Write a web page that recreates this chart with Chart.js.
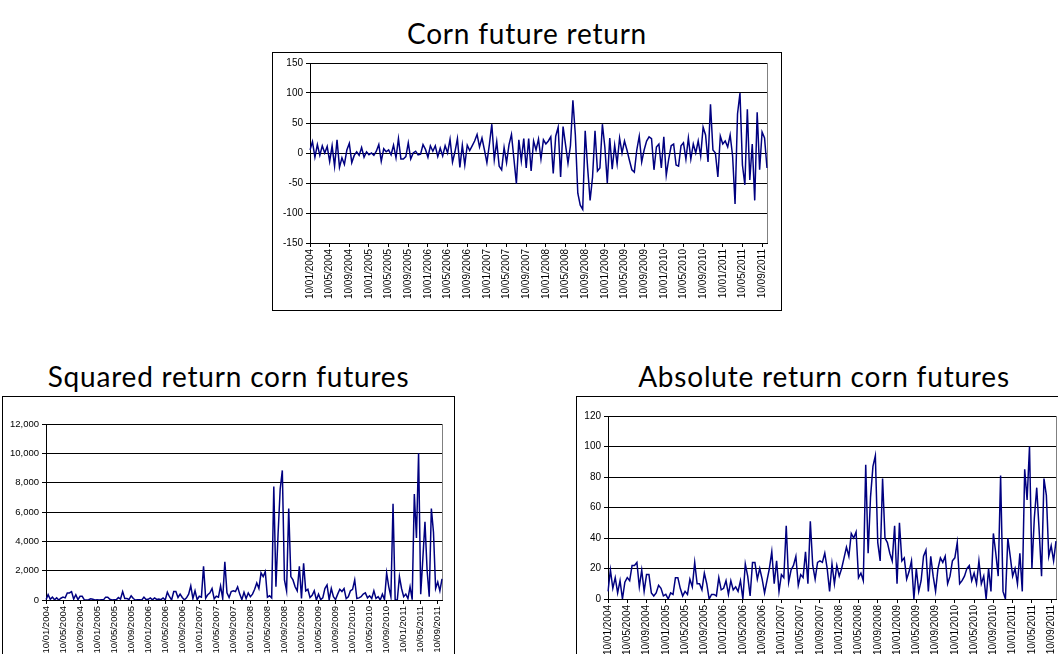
<!DOCTYPE html>
<html lang="en">
<head>
  <meta charset="UTF-8" />
  <title>Corn futures returns</title>
  <script src="https://cdn.jsdelivr.net/npm/chart.js"></script>
  <style>
    body {
      margin: 0;
      width: 1058px;
      height: 654px;
      overflow: hidden;
      position: relative;
      background: #fff;
    }

    .title {
      position: absolute;
      font-family: Lato, 'Open Sans', sans-serif;
      font-size: 28px;
      letter-spacing: 0.8px;
      line-height: 1;
      color: #000;
      text-align: center;
      white-space: nowrap;
    }

    .box {
      position: absolute;
      box-sizing: border-box;
      border: 1px solid #000;
      background: #fff;
    }

    .box canvas {
      display: block;
    }
  </style>
</head>
<body>

  <div class="title" style="left:272px; width:510px; top:19px;">Corn future return</div>
  <div class="box" style="left:272px; top:52px; width:510px; height:259px;">
    <canvas id="returnChart" width="508" height="257"></canvas>
  </div>

  <div class="title" style="left:2px; width:453px; top:362px;">Squared return corn futures</div>
  <div class="box" style="left:2px; top:396px; width:453px; height:290px;">
    <canvas id="squaredChart" width="451" height="288"></canvas>
  </div>

  <div class="title" style="left:576px; width:496px; top:362px;">Absolute return corn futures</div>
  <div class="box" style="left:576px; top:396px; width:496px; height:290px;">
    <canvas id="absoluteChart" width="494" height="288"></canvas>
  </div>

  <script>
    // x axis labels, one every four months (dd/mm/yyyy)
    const tickLabels = [
      '10/01/2004', '10/05/2004', '10/09/2004',
      '10/01/2005', '10/05/2005', '10/09/2005',
      '10/01/2006', '10/05/2006', '10/09/2006',
      '10/01/2007', '10/05/2007', '10/09/2007',
      '10/01/2008', '10/05/2008', '10/09/2008',
      '10/01/2009', '10/05/2009', '10/09/2009',
      '10/01/2010', '10/05/2010', '10/09/2010',
      '10/01/2011', '10/05/2011', '10/09/2011'
    ];

    // two readings a month -> 8 readings between two labels
    const pointsPerLabel = 8;

    // corn future return
    const returns = [
      5, 19, -7, 14, -4, 12, 0, 11,
      -14, 12, -22, 22, -24, -8, -19, 5,
      16, -16, -4, 2, -4, 9, -7, 2,
      -3, 0, -4, 3, 14, -14, 7, 2,
      5, -3, 13, -8, 24, -10, -10, -6,
      17, -10, 0, 3, -3, -2, 14, 6,
      -7, 12, 3, 12, -6, 8, -5, 12,
      0, 23, -15, 2, 24, -24, 13, -20,
      13, 4, 12, 20, 31, 10, 25, 5,
      -16, 14, 48, -11, 19, -22, -28, 9,
      -16, 14, 31, -10, -51, 22, -13, 24,
      -25, 24, -30, 20, 5, 23, -10, 22,
      15, 20, 27, -34, 28, 43, -40, 44,
      14, -17, 12, 88, 30, -67, -87, -94,
      37, -25, -79, -40, 37, -30, -25, 48,
      10, -50, 25, -27, 13, -18, 25, 0,
      20, 5, -12, -28, -32, 5, 28, -15,
      5, 20, 27, 24, -28, 10, 15, -25,
      27, -37, -10, 12, 15, -20, -22, 12,
      17, -10, 25, -10, 15, 0, 20, -5,
      43, 30, -15, 81, 5, 0, -40, 28,
      15, 20, 10, 30, -5, -85, 65, 100,
      -20, -53, 73, -45, 15, -79, 68, -28,
      35, 25, -25
    ];

    // squared return
    const squaredReturns = [
      25, 361, 49, 196, 16, 144, 0, 121,
      196, 144, 484, 484, 576, 64, 361, 25,
      256, 256, 16, 4, 16, 81, 49, 4,
      9, 0, 16, 9, 196, 196, 49, 4,
      25, 9, 169, 64, 576, 100, 100, 36,
      289, 100, 0, 9, 9, 4, 196, 36,
      49, 144, 9, 144, 36, 64, 25, 144,
      0, 529, 225, 4, 576, 576, 169, 400,
      169, 16, 144, 400, 961, 100, 625, 25,
      256, 196, 2304, 121, 361, 484, 784, 81,
      256, 196, 961, 100, 2601, 484, 169, 576,
      625, 576, 900, 400, 25, 529, 100, 484,
      225, 400, 729, 1156, 784, 1849, 1600, 1936,
      196, 289, 144, 7744, 900, 4489, 7569, 8836,
      1369, 625, 6241, 1600, 1369, 900, 625, 2304,
      100, 2500, 625, 729, 169, 324, 625, 0,
      400, 25, 144, 784, 1024, 25, 784, 225,
      25, 400, 729, 576, 784, 100, 225, 625,
      729, 1369, 100, 144, 225, 400, 484, 144,
      289, 100, 625, 100, 225, 0, 400, 25,
      1849, 900, 225, 6561, 25, 0, 1600, 784,
      225, 400, 100, 900, 25, 7225, 4225, 10000,
      400, 2809, 5329, 2025, 225, 6241, 4624, 784,
      1225, 625, 1444
    ];

    // absolute return
    const absoluteReturns = [
      5, 19, 7, 14, 4, 12, 0, 11,
      14, 12, 22, 22, 24, 8, 19, 5,
      16, 16, 4, 2, 4, 9, 7, 2,
      3, 0, 4, 3, 14, 14, 7, 2,
      5, 3, 13, 8, 24, 10, 10, 6,
      17, 10, 0, 3, 3, 2, 14, 6,
      7, 12, 3, 12, 6, 8, 5, 12,
      0, 23, 15, 2, 24, 24, 13, 20,
      13, 4, 12, 20, 31, 10, 25, 5,
      16, 14, 48, 11, 19, 22, 28, 9,
      16, 14, 31, 10, 51, 22, 13, 24,
      25, 24, 30, 20, 5, 23, 10, 22,
      15, 20, 27, 34, 28, 43, 40, 44,
      14, 17, 12, 88, 30, 67, 87, 94,
      37, 25, 79, 40, 37, 30, 25, 48,
      10, 50, 25, 27, 13, 18, 25, 0,
      20, 5, 12, 28, 32, 5, 28, 15,
      5, 20, 27, 24, 28, 10, 15, 25,
      27, 37, 10, 12, 15, 20, 22, 12,
      17, 10, 25, 10, 15, 0, 20, 5,
      43, 30, 15, 81, 5, 0, 40, 28,
      15, 20, 10, 30, 5, 85, 65, 100,
      20, 53, 73, 45, 15, 79, 68, 28,
      35, 25, 38
    ];

    const categories = returns.map((v, i) =>
      i % pointsPerLabel === 0 ? tickLabels[i / pointsPerLabel] : '');

    // gray frame line on the right side of the plot area, like Excel
    const plotEdge = {
      id: 'plotEdge',
      beforeDatasetsDraw(chart) {
        const { ctx, chartArea: a } = chart;
        ctx.save();
        ctx.strokeStyle = '#808080';
        ctx.lineWidth = 1;
        ctx.beginPath();
        ctx.moveTo(Math.round(a.right) + 0.5, a.top);
        ctx.lineTo(Math.round(a.right) + 0.5, a.bottom);
        ctx.stroke();
        ctx.restore();
      }
    };

    function makeChart(id, values, y, g) {
      const ctx = document.getElementById(id).getContext('2d');
      return new Chart(ctx, {
        type: 'line',
        data: {
          labels: categories,
          datasets: [{
            data: values,
            borderColor: '#000080',
            borderWidth: 1.5,
            pointRadius: 0,
            tension: 0,
            fill: false
          }]
        },
        plugins: [plotEdge],
        options: {
          responsive: false,
          animation: false,
          layout: {
            padding: { left: 0, top: g.top, right: g.right, bottom: 0 }
          },
          plugins: {
            legend: { display: false },
            tooltip: { enabled: false }
          },
          scales: {
            x: {
              afterFit: (scale) => { scale.height = g.xHeight; },
              grid: {
                drawOnChartArea: false,
                drawTicks: true,
                tickLength: 4,
                color: '#000'
              },
              border: { color: '#000' },
              ticks: {
                autoSkip: false,
                minRotation: 90,
                maxRotation: 90,
                padding: 2,
                color: '#000',
                font: { family: "'Liberation Sans', Arial, sans-serif", size: g.font },
                callback: function(value) {
                  const label = this.getLabelForValue(value);
                  return label === '' ? null : label;
                }
              }
            },
            y: {
              min: y.min,
              max: y.max,
              afterFit: (scale) => { scale.width = g.yWidth; },
              grid: {
                color: '#000',
                lineWidth: 1,
                tickLength: 4
              },
              border: { color: '#000' },
              ticks: {
                stepSize: y.step,
                padding: 3,
                color: '#000',
                font: { family: "'Liberation Sans', Arial, sans-serif", size: g.font }
              }
            }
          }
        }
      });
    }

    makeChart('returnChart', returns,
      { min: -150, max: 150, step: 50 },
      { yWidth: 37, top: 10, right: 14, xHeight: 67, font: 10 });

    makeChart('squaredChart', squaredReturns,
      { min: 0, max: 12000, step: 2000 },
      { yWidth: 43, top: 27, right: 12, xHeight: 85, font: 9.5 });

    makeChart('absoluteChart', absoluteReturns,
      { min: 0, max: 120, step: 20 },
      { yWidth: 31, top: 19, right: 15, xHeight: 86, font: 10 });
  </script>

</body>
</html>
